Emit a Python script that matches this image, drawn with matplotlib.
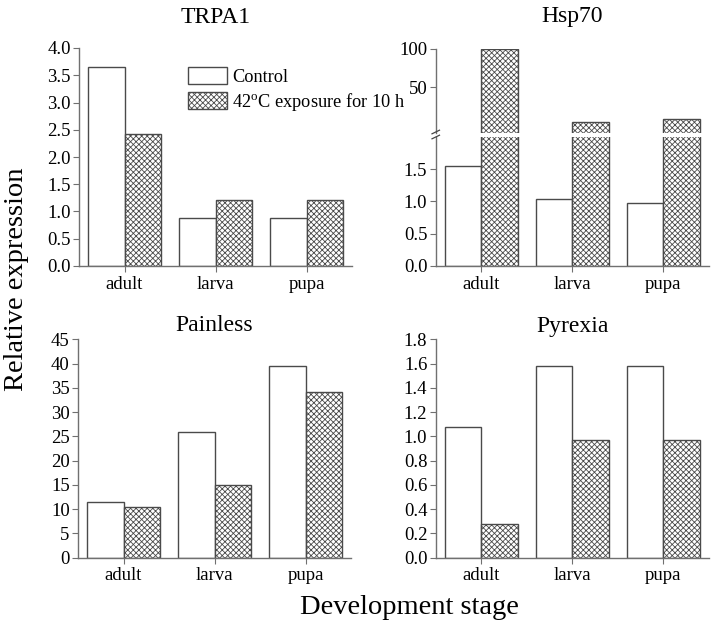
import matplotlib
matplotlib.use('Agg')
import matplotlib.pyplot as plt
from matplotlib.lines import Line2D
import numpy as np

plt.rcParams['font.family'] = 'Liberation Serif'
plt.rcParams['mathtext.fontset'] = 'custom'
plt.rcParams['mathtext.rm'] = 'Liberation Serif'
plt.rcParams['hatch.linewidth'] = 0.6
plt.rcParams['hatch.color'] = '#1a1a1a'

# --- data ---
stages = ['adult', 'larva', 'pupa']
trpa1_control = [3.66, 0.88, 0.88]
trpa1_heat = [2.42, 1.22, 1.22]
hsp70_control = [1.54, 1.03, 0.97]
hsp70_heat = [100, 6, 10]
painless_control = [11.4, 26.0, 39.6]
painless_heat = [10.4, 15.0, 34.1]
pyrexia_control = [1.08, 1.58, 1.58]
pyrexia_heat = [0.28, 0.97, 0.97]

legend_labels = ['Control', r'42$^{\rm o}$C exposure for 10 h']

EDGE = '#4a4a4a'
AXC = '#707070'
TICKFS = 13.5
W = 0.4
x = np.arange(len(stages))

fig = plt.figure(figsize=(7.14, 6.23), dpi=100)


def style(ax, bottom=True):
    for s in ['top', 'right']:
        ax.spines[s].set_visible(False)
    for s in ['left', 'bottom']:
        ax.spines[s].set_color(AXC)
        ax.spines[s].set_linewidth(1.0)
    ax.tick_params(axis='y', direction='out', length=4, color=AXC, labelsize=TICKFS, pad=2)
    ax.tick_params(axis='x', direction='out', length=4, color=AXC, labelsize=TICKFS, pad=3)
    ax.set_xlim(-0.5, 2.5)
    if bottom:
        ax.set_xticks(x)
        ax.set_xticklabels(stages)
    else:
        ax.spines['bottom'].set_visible(False)
        ax.set_xticks([])


def bars(ax, ctrl, heat, bottom=0, show_ctrl=True):
    h1 = None
    if show_ctrl:
        h1 = ax.bar(x - W / 2, ctrl, W, color='white', edgecolor=EDGE, linewidth=1.0)
    heat_h = [v - bottom for v in heat]
    h2 = ax.bar(x + W / 2, heat_h, W, bottom=bottom, color='white', edgecolor=EDGE,
                hatch='xxxxxx', linewidth=1.0)
    return h1, h2


def fx(px):
    return px / 714.0


def fy(py):
    return 1 - py / 623.0


# TRPA1
ax1 = fig.add_axes([fx(79), fy(266), fx(273), fy(48) - fy(266)])
h1, h2 = bars(ax1, trpa1_control, trpa1_heat)
ax1.set_ylim(0, 4.0)
ax1.set_yticks(np.arange(0, 4.01, 0.5))
ax1.set_yticklabels(['%.1f' % v for v in np.arange(0, 4.01, 0.5)])
style(ax1)
ax1.set_title('TRPA1', fontsize=17, pad=18)
ax1.legend([h1, h2], legend_labels, loc='upper left', bbox_to_anchor=(fx(187.5), fy(67)),
           bbox_transform=fig.transFigure, frameon=False, fontsize=13.2, borderpad=0,
           handlelength=2.15, handleheight=1.07, handletextpad=0.3, labelspacing=0.27,
           borderaxespad=0)

# Hsp70 (broken axis)
up_lo, up_hi = -8.3, 100.3
ax2b = fig.add_axes([fx(435.7), fy(266), fx(273), fy(136.7) - fy(266)])
bars(ax2b, hsp70_control, hsp70_heat)
ax2b.set_ylim(0, 2.0)
ax2b.set_yticks([0, 0.5, 1.0, 1.5])
ax2b.set_yticklabels(['0.0', '0.5', '1.0', '1.5'])
style(ax2b)

ax2t = fig.add_axes([fx(435.7), fy(132.7), fx(273), fy(48.5) - fy(132.7)])
bars(ax2t, hsp70_control, hsp70_heat, bottom=up_lo - 5, show_ctrl=False)
ax2t.set_ylim(up_lo, up_hi)
ax2t.set_yticks([50, 100])
style(ax2t, bottom=False)
ax2t.set_title('Hsp70', fontsize=17, pad=19)

# break marks
for yb in (132.0, 137.0):
    fig.add_artist(Line2D([fx(432), fx(439.5)], [fy(yb + 1.8), fy(yb - 1.8)],
                          color='#444444', linewidth=0.9))

# Painless
ax3 = fig.add_axes([fx(78), fy(557.7), fx(273), fy(339.3) - fy(557.7)])
bars(ax3, painless_control, painless_heat)
ax3.set_ylim(0, 45)
ax3.set_yticks(np.arange(0, 46, 5))
style(ax3)
ax3.set_title('Painless', fontsize=17, pad=6)

# Pyrexia
ax4 = fig.add_axes([fx(435.7), fy(557.7), fx(273), fy(339.3) - fy(557.7)])
bars(ax4, pyrexia_control, pyrexia_heat)
ax4.set_ylim(0, 1.8)
ax4.set_yticks(np.arange(0, 1.81, 0.2))
ax4.set_yticklabels(['%.1f' % v for v in np.arange(0, 1.81, 0.2)])
style(ax4)
ax4.set_title('Pyrexia', fontsize=17, pad=5)

fig.text(fx(17), fy(279), 'Relative expression', rotation=90, ha='center', va='center', fontsize=20.5)
fig.text(fx(409), fy(613.5), 'Development stage', ha='center', va='baseline', fontsize=20.5)

fig.savefig('out.png', dpi=100)
